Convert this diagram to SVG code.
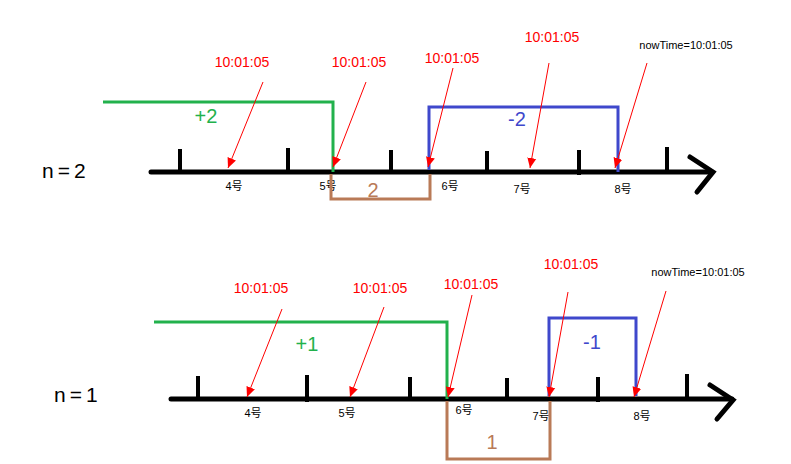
<svg xmlns="http://www.w3.org/2000/svg" width="791" height="464" viewBox="0 0 791 464">
<style>
.axis{stroke:#000;stroke-width:5;fill:none;stroke-linecap:round}
.tick{stroke:#000;stroke-width:4}
.ptr{stroke:#f00;stroke-width:1;fill:none}
.time{font-family:"Liberation Sans",Arial,sans-serif;font-size:14px;fill:#f00;text-anchor:middle}
.now{font-family:"Liberation Sans",Arial,sans-serif;font-size:11px;fill:#000;text-anchor:middle}
.day{font-family:"Liberation Sans","Noto Sans CJK SC",sans-serif;font-size:11px;fill:#000;text-anchor:middle}
.n{font-family:"Liberation Sans",Arial,sans-serif;font-size:21px;fill:#000;letter-spacing:4px}
.big{font-family:"Liberation Sans",Arial,sans-serif;font-size:20px;text-anchor:middle}
.g{stroke:#22b14c;stroke-width:3;fill:none}
.b{stroke:#3f48cc;stroke-width:3;fill:none}
.br{stroke:#b97a57;stroke-width:3;fill:none}
</style>
<defs>
<marker id="ah" markerUnits="userSpaceOnUse" markerWidth="12" markerHeight="12" viewBox="0 0 12 12" refX="10" refY="6" orient="auto">
<path d="M0,1.5 L10,6 L0,10.5 Z" fill="#f00"/>
</marker>
</defs>

<g id="top-axis">
<line class="axis" x1="151" y1="172" x2="712" y2="172"/>
<polyline class="axis" points="690,157 713,172 697,192" stroke-linejoin="miter"/>
<line class="tick" x1="180" y1="149" x2="180" y2="172"/>
<line class="tick" x1="288" y1="148" x2="288" y2="174"/>
<line class="tick" x1="391" y1="150" x2="391" y2="172"/>
<line class="tick" x1="487" y1="151" x2="487" y2="172"/>
<line class="tick" x1="579" y1="150" x2="579" y2="175"/>
<line class="tick" x1="667" y1="147" x2="667" y2="172"/>
</g>
<g id="top-labels">
<text class="n" x="42" y="178">n=2</text>
<text class="day" x="234" y="190">4号</text>
<text class="day" x="328" y="190">5号</text>
<text class="day" x="450" y="190">6号</text>
<text class="day" x="522" y="193">7号</text>
<text class="day" x="623" y="193">8号</text>
<text class="time" x="242" y="67">10:01:05</text>
<text class="time" x="359" y="67">10:01:05</text>
<text class="time" x="452" y="63">10:01:05</text>
<text class="time" x="552" y="42">10:01:05</text>
<text class="now" x="686" y="49">nowTime=10:01:05</text>
</g>
<g id="top-green">
<polyline class="g" points="103,102 333,102 333,172"/>
<text class="big" x="206" y="123" fill="#22b14c">+2</text>
</g>
<g id="top-brown">
<polyline class="br" points="331,174 331,199 430,199 430,174"/>
<text class="big" x="373" y="197" fill="#b97a57">2</text>
</g>
<g id="top-blue">
<polyline class="b" points="429,170 429,107 618,107 618,172"/>
<text class="big" x="517" y="126" fill="#3f48cc">-2</text>
</g>

<g id="bottom-axis">
<line class="axis" x1="171" y1="399" x2="732" y2="399"/>
<polyline class="axis" points="710,385 733,400 717,419" stroke-linejoin="miter"/>
<line class="tick" x1="198" y1="376" x2="198" y2="399"/>
<line class="tick" x1="307" y1="375" x2="307" y2="402"/>
<line class="tick" x1="410" y1="377" x2="410" y2="399"/>
<line class="tick" x1="507" y1="378" x2="507" y2="399"/>
<line class="tick" x1="598" y1="377" x2="598" y2="402"/>
<line class="tick" x1="687" y1="374" x2="687" y2="399"/>
</g>
<g id="bottom-labels">
<text class="n" x="54" y="402">n=1</text>
<text class="day" x="253" y="417">4号</text>
<text class="day" x="347" y="417">5号</text>
<text class="day" x="464" y="414">6号</text>
<text class="day" x="541" y="420">7号</text>
<text class="day" x="642" y="420">8号</text>
<text class="time" x="261" y="293">10:01:05</text>
<text class="time" x="380" y="293">10:01:05</text>
<text class="time" x="471" y="289">10:01:05</text>
<text class="time" x="571" y="269">10:01:05</text>
<text class="now" x="698" y="276">nowTime=10:01:05</text>
</g>
<g id="bottom-green">
<polyline class="g" points="154,322 447,322 447,399"/>
<text class="big" x="307" y="351" fill="#22b14c">+1</text>
</g>
<g id="bottom-brown">
<polyline class="br" points="447,401 447,459 550,459 550,401"/>
<text class="big" x="492" y="449" fill="#b97a57">1</text>
</g>
<g id="bottom-blue">
<polyline class="b" points="549,396 549,318 636,318 636,396"/>
<text class="big" x="592" y="349" fill="#3f48cc">-1</text>
</g>

<g id="connectors">
<line class="ptr" x1="263" y1="82" x2="228" y2="168" marker-end="url(#ah)"/>
<line class="ptr" x1="366" y1="82" x2="333" y2="167" marker-end="url(#ah)"/>
<line class="ptr" x1="453" y1="68" x2="428" y2="167" marker-end="url(#ah)"/>
<line class="ptr" x1="549" y1="63" x2="530" y2="168" marker-end="url(#ah)"/>
<line class="ptr" x1="647" y1="63" x2="615" y2="168" marker-end="url(#ah)"/>
<line class="ptr" x1="282" y1="309" x2="247" y2="397" marker-end="url(#ah)"/>
<line class="ptr" x1="384" y1="307" x2="350" y2="397" marker-end="url(#ah)"/>
<line class="ptr" x1="472" y1="295" x2="448" y2="397" marker-end="url(#ah)"/>
<line class="ptr" x1="568" y1="292" x2="549" y2="397" marker-end="url(#ah)"/>
<line class="ptr" x1="666" y1="291" x2="634" y2="397" marker-end="url(#ah)"/>
</g>
</svg>
